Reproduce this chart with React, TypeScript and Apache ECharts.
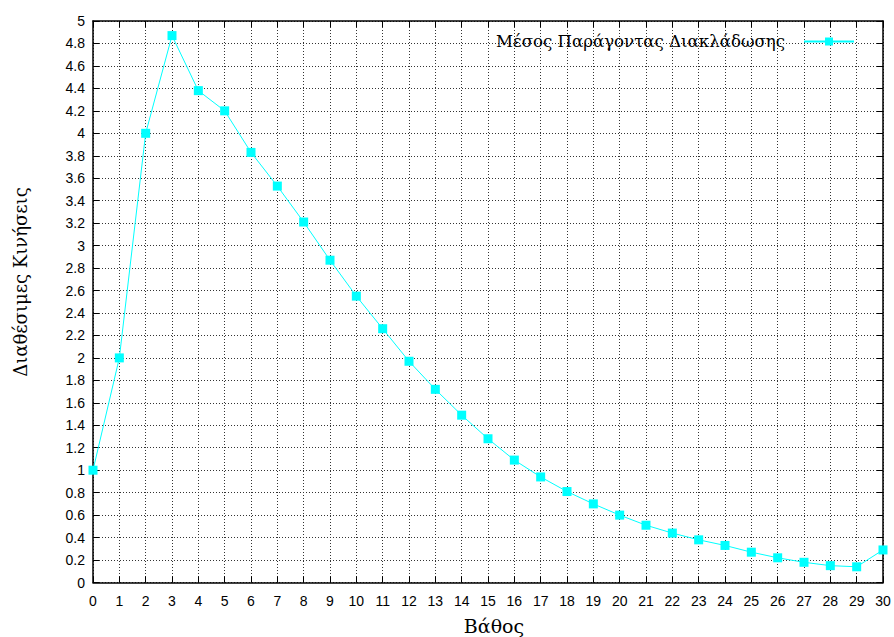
import React, { useEffect, useRef } from "react";
import * as echarts from "echarts";

const depths = [0, 1, 2, 3, 4, 5, 6, 7, 8, 9, 10, 11, 12, 13, 14, 15, 16, 17, 18, 19, 20, 21, 22, 23, 24, 25, 26, 27, 28, 29, 30];
const branching = [1.0, 2.0, 4.0, 4.87, 4.38, 4.2, 3.83, 3.53, 3.21, 2.87, 2.55, 2.26, 1.97, 1.72, 1.49, 1.28, 1.09, 0.94, 0.81, 0.7, 0.6, 0.51, 0.44, 0.38, 0.33, 0.27, 0.22, 0.18, 0.15, 0.14, 0.29];
const seriesName = "Μέσος Παράγοντας Διακλάδωσης";
const xTitle = "Βάθος";
const yTitle = "Διαθέσιμες Κινήσεις";

export default function App() {
  const ref = useRef<HTMLDivElement>(null);
  useEffect(() => {
    if (!ref.current) return;
    const chart = echarts.init(ref.current, null, { renderer: "svg" });
    const grid = { left: 93, right: 11, top: 21, bottom: 54.5, outerBoundsMode: "none", containLabel: false };
    const gridLine = { show: true, lineStyle: { color: "#333", type: [1, 2] as any, width: 1 } };
    const axisLine = { show: true, onZero: false, lineStyle: { color: "#000", width: 1.5 } };
    const tick = { show: true, inside: true, length: 6, lineStyle: { color: "#000", width: 1 } };
    const labelStyle = { fontFamily: "Liberation Sans, Arial, sans-serif", fontSize: 14, color: "#000" };
    chart.setOption({
      animation: false,
      backgroundColor: "#fff",
      grid,
      legend: {
        show: true,
        right: 34,
        top: 28,
        align: "right",
        itemWidth: 50,
        itemHeight: 10,
        itemGap: 10,
        textStyle: { fontFamily: "DejaVu Serif, serif", fontSize: 16.6, color: "#000", padding: [0, 14, 0, 0] },
        data: [seriesName],
      },
      graphic: [
        {
          type: "text",
          x: 20,
          y: 282,
          rotation: Math.PI / 2,
          style: {
            text: yTitle,
            fontFamily: "DejaVu Serif, serif",
            fontSize: 18,
            fill: "#000",
            align: "center",
            verticalAlign: "middle",
          },
        },
        {
          type: "text",
          x: 494,
          y: 626,
          style: {
            text: xTitle,
            fontFamily: "DejaVu Serif, serif",
            fontSize: 19,
            fill: "#000",
            align: "center",
            verticalAlign: "middle",
          },
        },
      ],
      xAxis: [
        {
          type: "value", min: 0, max: 30, interval: 1, position: "bottom",
          axisLine, axisTick: tick, splitLine: gridLine,
          axisLabel: { ...labelStyle, margin: 11 },
        },
        {
          type: "value", min: 0, max: 30, interval: 1, position: "top",
          axisLine, axisTick: tick, splitLine: { show: false }, axisLabel: { show: false },
        },
      ],
      yAxis: [
        {
          type: "value", min: 0, max: 5, interval: 0.2, position: "left",
          axisLine, axisTick: tick, splitLine: gridLine,
          axisLabel: { ...labelStyle, margin: 8 },
        },
        {
          type: "value", min: 0, max: 5, interval: 0.2, position: "right",
          axisLine, axisTick: tick, splitLine: { show: false }, axisLabel: { show: false },
        },
      ],
      series: [
        {
          name: seriesName,
          type: "line",
          data: depths.map((d, i) => [d, branching[i]]),
          symbol: "rect",
          symbolSize: 9,
          showAllSymbol: true,
          lineStyle: { color: "#00ffff", width: 1 },
          itemStyle: { color: "#00ffff" },
          clip: false,
        },
      ],
    });
    return () => chart.dispose();
  }, []);
  return <div ref={ref} style={{ position: "absolute", left: 0, top: 0, width: 894, height: 637 }} />;
}
